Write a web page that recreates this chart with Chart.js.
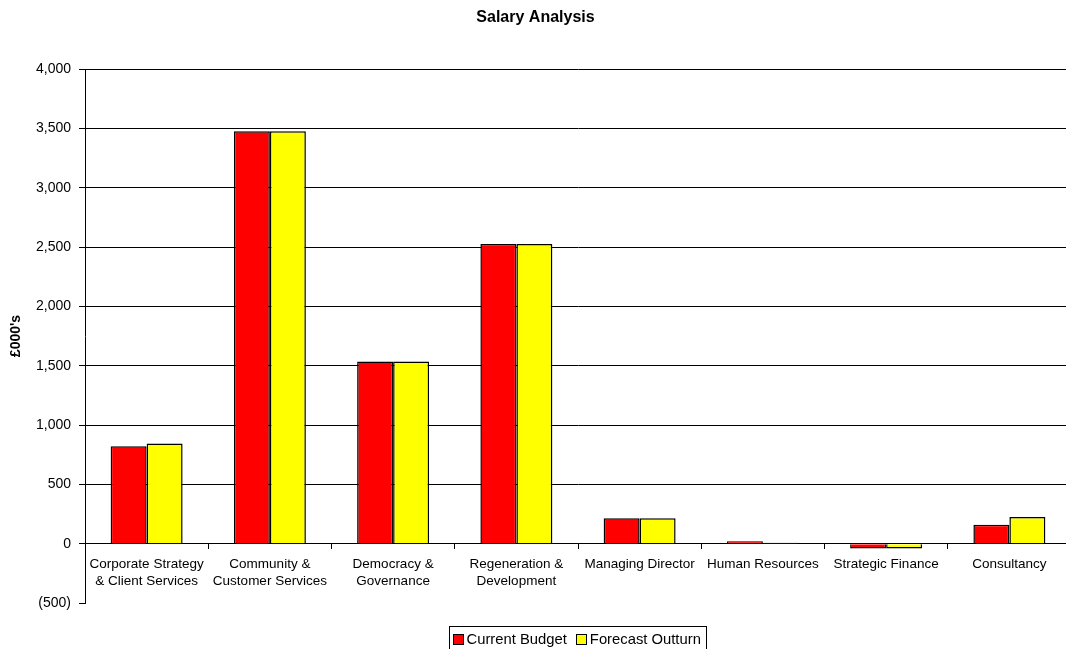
<!DOCTYPE html>
<html>
<head>
<meta charset="utf-8">
<title>Salary Analysis</title>
<script src="https://cdn.jsdelivr.net/npm/chart.js@4/dist/chart.umd.min.js"></script>
<style>
  html, body { margin: 0; padding: 0; background: #fff; overflow: hidden; }
  #wrap { width: 1066px; height: 649px; overflow: hidden; position: relative; }
  canvas { display: block; }
</style>
</head>
<body>
<div id="wrap"><canvas id="chart" width="1072" height="649"></canvas></div>
<script>
// Directorates shown along the category axis (one entry per line of the label)
const categories = [
  ['Corporate Strategy', '& Client Services'],
  ['Community &', 'Customer Services'],
  ['Democracy &', 'Governance'],
  ['Regeneration &', 'Development'],
  'Managing Director',
  'Human Resources',
  'Strategic Finance',
  'Consultancy'
];

// Salary figures in £000's
const currentBudget   = [820, 3475, 1535, 2525, 215, 20, -40, 160];
const forecastOutturn = [845, 3475, 1535, 2525, 215, 8, -40, 225];

const seriesNames = ['Current Budget', 'Forecast Outturn'];
const seriesColors = ['#FF0000', '#FFFF00'];

// Value axis range and step
const yMin = -500;
const yMax = 4000;
const yStep = 500;

const FONT = '"Liberation Sans", Arial, Helvetica, sans-serif';

function formatThousands(v) {
  const s = Math.abs(v).toLocaleString('en-GB');
  return v < 0 ? '(' + s + ')' : s;
}

// Boxed legend drawn under the plot
const boxedLegend = {
  id: 'boxedLegend',
  afterDraw(chart) {
    const ctx = chart.ctx;
    const sets = chart.data.datasets;
    ctx.save();
    ctx.font = '14.8px ' + FONT;
    ctx.textBaseline = 'middle';
    const sq = 11, gapAfterSq = 3, gapItems = 9, padL = 3, padR = 6;
    let total = padL;
    sets.forEach((ds, i) => {
      total += sq + gapAfterSq + ctx.measureText(ds.label).width;
      if (i < sets.length - 1) total += gapItems;
    });
    total += padR;
    const cx = (chart.chartArea.left + chart.chartArea.right) / 2;
    const left = Math.round(cx - total / 2) + 0.5;
    const top = 626.5;
    ctx.strokeStyle = '#000';
    ctx.lineWidth = 1;
    ctx.strokeRect(left, top, Math.round(total), 40);
    let x = left + padL;
    const midY = 639;
    sets.forEach((ds) => {
      const sx = Math.round(x);
      ctx.fillStyle = ds.backgroundColor;
      ctx.fillRect(sx, midY - 5, sq, sq);
      ctx.strokeRect(sx + 0.5, midY - 4.5, sq - 1, sq - 1);
      x += sq + gapAfterSq;
      ctx.fillStyle = '#000';
      ctx.fillText(ds.label, x, midY + 0.5);
      x += ctx.measureText(ds.label).width + gapItems;
    });
    ctx.restore();
  }
};

new Chart(document.getElementById('chart'), {
  type: 'bar',
  data: {
    labels: categories,
    datasets: [
      {
        label: seriesNames[0],
        data: currentBudget,
        backgroundColor: seriesColors[0],
        borderColor: '#000',
        borderWidth: 1.5
      },
      {
        label: seriesNames[1],
        data: forecastOutturn,
        backgroundColor: seriesColors[1],
        borderColor: '#000',
        borderWidth: 1.5
      }
    ]
  },
  options: {
    responsive: false,
    animation: false,
    events: [],
    devicePixelRatio: 1,
    layout: { padding: { left: 0, right: 1, top: 0, bottom: 46 } },
    datasets: {
      bar: { categoryPercentage: 0.584, barPercentage: 1.0 }
    },
    plugins: {
      legend: { display: false },
      tooltip: { enabled: false },
      title: {
        display: true,
        text: 'Salary Analysis',
        color: '#000',
        font: { family: FONT, size: 16, weight: 'bold', lineHeight: 1.2 },
        padding: { top: 8, bottom: 41.8 }
      }
    },
    scales: {
      x: {
        type: 'category',
        position: { y: 0 },
        grid: {
          offset: true,
          drawOnChartArea: false,
          drawTicks: true,
          tickLength: 5,
          color: '#000',
          tickColor: '#000'
        },
        border: { display: true, color: '#000', width: 1 },
        ticks: {
          color: '#000',
          padding: 7,
          maxRotation: 0,
          autoSkip: false,
          font: { family: FONT, size: 13.5, lineHeight: 1.26 }
        }
      },
      y: {
        min: yMin,
        max: yMax,
        afterFit(scale) { scale.width = 85; },
        grid: {
          color: (c) => (c.tick && c.tick.value === yMin) ? 'rgba(0,0,0,0)' : '#000',
          tickColor: '#000',
          tickLength: 6,
          lineWidth: 1
        },
        border: { display: true, color: '#000', width: 1 },
        ticks: {
          stepSize: yStep,
          color: '#000',
          padding: 8,
          font: { family: FONT, size: 14 },
          callback: (v) => formatThousands(v)
        },
        title: {
          display: true,
          text: "£000's",
          color: '#000',
          font: { family: FONT, size: 14, weight: 'bold' },
          padding: { top: 8, bottom: 0 }
        }
      }
    }
  },
  plugins: [boxedLegend]
});
</script>
</body>
</html>
